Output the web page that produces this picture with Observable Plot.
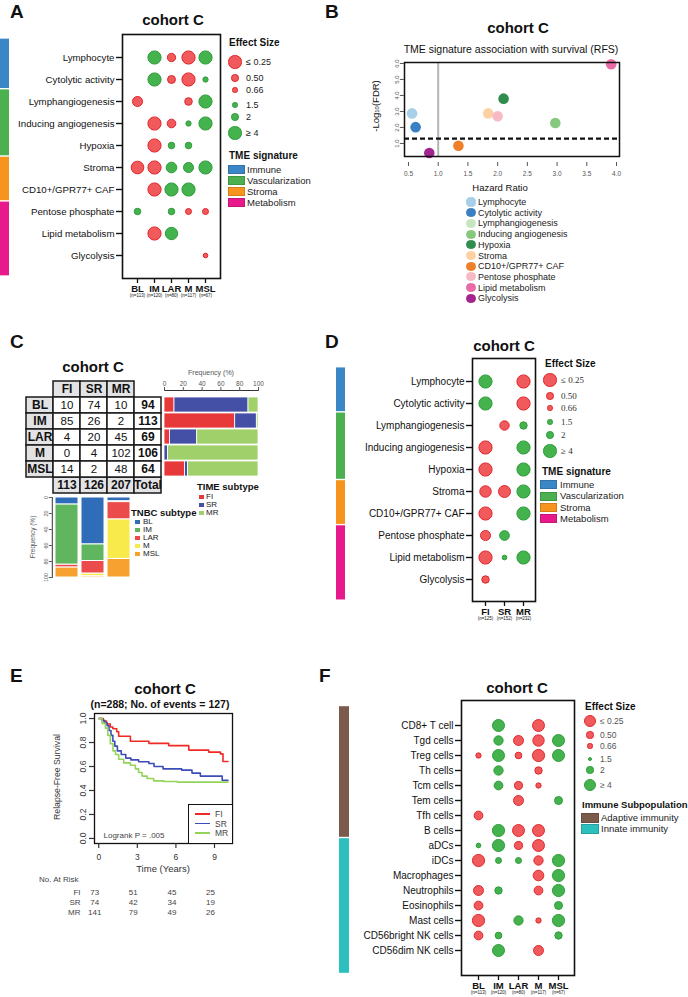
<!DOCTYPE html>
<html><head><meta charset="utf-8">
<script src="https://cdn.jsdelivr.net/npm/d3@7"></script>
<script src="https://cdn.jsdelivr.net/npm/@observablehq/plot@0.6"></script>
<style>
body{margin:0;background:#fff;}
#root{position:relative;width:688px;height:997px;overflow:hidden;background:#fff;}
</style></head><body><div id="root"></div>
<script>
// ================= DATA =================
// Panel A (TME signatures x TNBC subtypes), effect sizes (null = not significant)
const tmeRows = ["Lymphocyte","Cytolytic activity","Lymphangiogenesis","Inducing angiogenesis","Hypoxia","Stroma","CD10+/GPR77+ CAF","Pentose phosphate","Lipid metabolism","Glycolysis"];
const tmeGroups = ["Immune","Vascularization","Stroma","Metabolism"];
const tmeGroupCounts = [2,3,2,3];
const tmeGroupColors = ["#3b86c6","#4cb050","#f7941e","#e8198b"];
const subtypes = ["BL","IM","LAR","M","MSL"];
const subtypeN = [113,120,80,117,67];
const aES = [
  [null,4,0.46,0.25,4],
  [null,4,0.48,0.25,1.5],
  [0.37,null,null,0.5,4],
  [null,0.25,0.44,1.5,4],
  [null,0.25,1.75,1.75,null],
  [0.27,0.25,2.9,2.7,4],
  [null,0.25,4,4,null],
  [1.75,null,1.75,0.61,0.61],
  [null,0.25,3.6,null,null],
  [null,null,null,null,0.72]
];
// Panel D (TME signatures x TIME subtypes)
const timeSubtypes = ["FI","SR","MR"];
const timeN = [125,152,232];
const dES = [
  [4,null,0.25],
  [4,null,0.25],
  [null,0.4,1.95],
  [0.25,null,4],
  [0.25,null,4],
  [0.31,0.29,4],
  [0.25,null,4],
  [0.37,2.6,null],
  [0.25,1.4,4],
  [0.51,null,null]
];
// Effect-size legend
const esLegendValues = [0.25,0.5,0.66,1.5,2,4];
const esLegendLabels = ["≤ 0.25","0.50","0.66","1.5","2","≥ 4"];

// Panel B (hazard ratio vs -log10 FDR)
const bNames = ["Lymphocyte","Cytolytic activity","Lymphangiogenesis","Inducing angiogenesis","Hypoxia","Stroma","CD10+/GPR77+ CAF","Pentose phosphate","Lipid metabolism","Glycolysis"];
const bHR = [0.56,0.62,null,2.97,2.1,1.84,1.34,2.0,3.91,0.85];
const bLogFDR = [2.88,2.02,null,2.28,3.8,2.88,0.86,2.7,5.95,0.4];
const bColors = ["#a8cfe8","#3a80c4","#c6e6bf","#86c97e","#2f8d4e","#fdd1a3","#f07f2a","#f8b9c6","#e96aa6","#a3238f"];

// Panel C (contingency table)
const cRowNames = ["BL","IM","LAR","M","MSL"];
const cCounts = [[10,74,10],[85,26,2],[4,20,45],[0,4,102],[14,2,48]];
const cRowTotals = [94,113,69,106,64];
const cColTotals = [113,126,207];
const timeColors = ["#e8393a","#4450a6","#a0d06a"];
const tnbcColors = ["#2f6db8","#5fb65f","#ec4b4b","#f7ea4a","#f7a230"];
const freqTicks = [0,20,40,60,80,100];

// Panel E (Kaplan-Meier RFS)
const kmFI_t = [0,0.35,0.6,0.9,1.1,1.4,1.55,2.46,3.9,5.44,7.0,8.55,9.46,9.66,10.05];
const kmFI_s = [1,0.98,0.955,0.93,0.915,0.89,0.852,0.81,0.793,0.774,0.737,0.72,0.705,0.642,0.642];
const kmSR_t = [0,0.25,0.45,0.65,0.8,0.95,1.1,1.25,1.45,1.75,2.1,2.5,3.1,3.9,4.3,5.0,6.45,7.25,7.9,9.6,10.05];
const kmSR_s = [1,0.985,0.965,0.94,0.9,0.86,0.81,0.77,0.73,0.70,0.67,0.655,0.64,0.625,0.60,0.58,0.57,0.545,0.52,0.485,0.485];
const kmMR_t = [0,0.26,0.52,0.7,0.9,1.11,1.3,1.55,1.94,2.46,2.85,3.1,3.37,3.76,4.27,5.05,6.1,10.05];
const kmMR_s = [1,0.96,0.92,0.86,0.79,0.73,0.70,0.66,0.63,0.61,0.58,0.55,0.52,0.50,0.48,0.475,0.47,0.47];
const kmColors = ["#ee2a24","#3d4db7","#93d35a"];
const riskTimes = [0,3,6,9];
const riskFI = [73,51,45,25];
const riskSR = [74,42,34,19];
const riskMR = [141,79,49,26];

// Panel F (immune subpopulations x TNBC subtypes)
const fRows = ["CD8+ T cell","Tgd cells","Treg cells","Th cells","Tcm cells","Tem cells","Tfh cells","B cells","aDCs","iDCs","Macrophages","Neutrophils","Eosinophils","Mast cells","CD56bright NK cells","CD56dim NK cells"];
const fGroups = ["Adaptive immunity","Innate immunity"];
const fGroupCounts = [8,8];
const fGroupColors = ["#7b5a4b","#2bbfbd"];
const fES = [
  [null,3.9,null,0.26,null],
  [null,2.7,0.34,0.28,3.9],
  [0.64,3.9,0.53,0.25,3.9],
  [null,2.7,null,0.48,null],
  [null,2.5,0.44,0.64,null],
  [null,null,0.34,null,2.26],
  [0.40,null,null,null,null],
  [null,4,0.26,0.26,null],
  [1.43,4,0.44,0.26,null],
  [0.25,1.72,1.72,0.37,4],
  [null,null,null,0.31,4],
  [0.34,2.07,null,0.40,4],
  [0.40,null,null,null,2.26],
  [0.25,null,2.7,0.64,4],
  [0.40,1.88,null,null,2.07],
  [null,3.9,null,0.34,null]
];

// ================= HELPERS =================
const FONT = "'Liberation Sans', Arial, Helvetica, sans-serif";
const RED = "#f05a5c", RED_S = "#e2262a", GREEN = "#45b34d", GREEN_S = "#2f9c3b";
const root = document.getElementById("root");
const pstyle = {fontFamily: FONT, background: "transparent", overflow: "visible", color: "#111"};
function put(el, x, y) { el.style.position = "absolute"; el.style.left = x + "px"; el.style.top = y + "px"; root.appendChild(el); return el; }
function txt(html, x, y, o = {}) {
  const d = document.createElement("div");
  d.innerHTML = html;
  const ax = o.anchor === "middle" ? "-50%" : o.anchor === "end" ? "-100%" : "0%";
  d.style.cssText = `position:absolute;left:${x}px;top:${y}px;white-space:nowrap;line-height:1;font-family:${o.font || FONT};font-size:${o.size || 9}px;font-weight:${o.bold ? 700 : 400};color:${o.color || "#111"};transform:translate(${ax},-50%)${o.rotate ? ` rotate(${o.rotate}deg)` : ""};`;
  root.appendChild(d); return d;
}
function box(x, y, w, h, css) {
  const d = document.createElement("div");
  d.style.cssText = `position:absolute;left:${x}px;top:${y}px;width:${w}px;height:${h}px;box-sizing:border-box;${css}`;
  root.appendChild(d); return d;
}
function circ(cx, cy, r, fill, stroke) { return box(cx - r, cy - r, 2 * r, 2 * r, `border-radius:50%;background:${fill};border:1px solid ${stroke};`); }
const legR = (v, rMax) => 1 + (rMax - 1) * Math.min(Math.abs(Math.log2(v)), 2) / 2;

function dotPlot(c) {
  const data = [];
  c.rows.forEach((r, i) => c.cols.forEach((col, j) => { const v = c.es[i][j]; if (v != null) data.push({row: r, col, es: v}); }));
  const svg = Plot.plot({
    width: c.width, height: c.height, marginLeft: c.mL, marginRight: c.mR, marginTop: c.mT, marginBottom: c.mB,
    style: pstyle,
    x: {type: "point", domain: c.cols, padding: c.padX},
    y: {type: "point", domain: c.rows, padding: c.padY},
    r: {type: "linear", domain: [0, 2], range: [1, c.rMax], clamp: true},
    color: {type: "identity"},
    marks: [
      Plot.axisY({tickSize: 6, tickPadding: 2, fontSize: c.yFont || 10, strokeWidth: 1.4, label: null}),
      Plot.axisX({tickSize: 5, tickPadding: 1.5, fontSize: 9.5, fontWeight: "bold", strokeWidth: 1.3, label: null}),
      Plot.text(c.cols, {x: d => d, text: (d, i) => `(n=${c.ns[i]})`, frameAnchor: "bottom", dy: 18, fontSize: 4.5}),
      Plot.dot(data, {x: "col", y: "row", r: d => Math.abs(Math.log2(d.es)), fill: d => d.es < 1 ? RED : GREEN, stroke: d => d.es < 1 ? RED_S : GREEN_S, strokeWidth: 1}),
      Plot.frame({stroke: "#111", strokeWidth: 1.6})
    ]
  });
  put(svg, c.left, c.top);
}
function sideBar(c) {
  const n = d3.sum(c.counts);
  let cum = 0;
  const rects = c.groups.map((g, k) => { const s = cum; cum += c.counts[k]; return {g, y1: s - (k === 0 ? c.extT : 0), y2: cum + (k === c.groups.length - 1 ? c.extB : 0), color: c.colors[k]}; });
  const svg = Plot.plot({
    width: c.w, height: c.height, marginLeft: 0, marginRight: 0, marginTop: c.mT, marginBottom: c.mB, style: pstyle,
    x: {domain: [0, 1], axis: null},
    y: {domain: [0.5 - c.padY, n - 0.5 + c.padY], reverse: true, axis: null},
    color: {type: "identity"},
    marks: [Plot.rect(rects, {x1: 0, x2: 1, y1: "y1", y2: "y2", fill: "color", insetTop: 0.7, insetBottom: 0.7})]
  });
  put(svg, c.left, c.top);
}
function esLegend(tx, ty, cx, ys, lx, rMax, o = {}) {
  txt("Effect Size", tx, ty, {size: 10, bold: true});
  esLegendValues.forEach((v, i) => {
    const r = legR(v, rMax);
    circ(cx, ys[i], r, v < 1 ? RED : GREEN, v < 1 ? RED_S : GREEN_S);
    txt(esLegendLabels[i], lx, ys[i], {size: o.size || 9, color: o.color || "#222", font: o.font});
  });
}
function swLegend(title, tx, ty, names, colors, sx, sw, sh, ys, lx, size, tsize) {
  txt(title, tx, ty, {size: tsize || 10, bold: true});
  names.forEach((n, i) => {
    box(sx, ys[i] - sh / 2, sw, sh, `background:${colors[i]};border:0.5px solid rgba(0,0,0,0.15);`);
    txt(n, lx, ys[i], {size: size || 9.5, color: "#222"});
  });
}

// ================= PANEL LETTERS =================
[["A",10,11],["B",325,11],["C",10,341],["D",325,341],["E",10,675],["F",319,675]].forEach(([l,x,y]) => txt(l, x, y, {size: 19, bold: true}));

// ================= PANEL A =================
txt("cohort C", 173, 19, {size: 15, bold: true, anchor: "middle"});
dotPlot({rows: tmeRows, cols: subtypes, ns: subtypeN, es: aES, left: 0, top: 30, width: 222, height: 270, mL: 122, mR: 2, mT: 4, mB: 22, padX: 0.73, padY: 0.936, rMax: 6.6, yFont: 9.7});
sideBar({groups: tmeGroups, counts: tmeGroupCounts, colors: tmeGroupColors, left: 0, top: 30, w: 9, height: 270, mT: 4, mB: 22, padY: 0.936, extT: 0.26, extB: 0.35});
esLegend(229, 43, 235, [62,78,90,105,117,133], 246, 6.6);
swLegend("TME signature", 229, 156, tmeGroups, tmeGroupColors, 228, 17, 9, [169.5,180.5,191.5,202.5], 247, 9.5);

// ================= PANEL B =================
txt("cohort C", 518, 27, {size: 15, bold: true, anchor: "middle"});
txt("TME signature association with survival (RFS)", 511, 49, {size: 10.5, anchor: "middle"});
{
  const bData = bNames.map((n, i) => ({name: n, hr: bHR[i], lf: bLogFDR[i], color: bColors[i]})).filter(d => d.hr != null);
  const svg = Plot.plot({
    width: 243, height: 122, marginLeft: 24, marginRight: 4, marginTop: 4, marginBottom: 18, style: pstyle,
    x: {domain: [0.433, 4.05]}, y: {domain: [-0.19, 6.06]}, color: {type: "identity"},
    marks: [
      Plot.ruleX([1], {stroke: "#b5b5b5", strokeWidth: 2, insetBottom: 6}),
      Plot.ruleY([1.3], {stroke: "#111", strokeWidth: 2.2, strokeDasharray: "5,3"}),
      Plot.dot(bData, {x: "hr", y: "lf", fill: "color", r: 5.3}),
      Plot.frame({insetBottom: 6, stroke: "#111", strokeWidth: 1.5}),
      Plot.axisX({ticks: [0.5,1,1.5,2,2.5,3,3.5,4], tickFormat: d3.format(".1f"), tickSize: 4, tickPadding: 5, fontSize: 6.5, color: "#555", label: null}),
      Plot.axisY({ticks: [1,2,3,4,5,6], tickSize: 4, tickPadding: 2, fontSize: 6, tickRotate: -90, color: "#555", label: null})
    ]
  });
  put(svg, 380, 58);
}
txt("Hazard Ratio", 500, 188, {size: 9.5, anchor: "middle"});
txt("-Log<span style='font-size:6px'>10</span>(FDR)", 376, 106, {size: 9.5, anchor: "middle", rotate: -90});
bNames.forEach((n, i) => {
  const y = 202 + i * 10.7;
  circ(471, y, 4.6, bColors[i], bColors[i]);
  txt(n, 478, y, {size: 9, color: "#222"});
});

// ================= PANEL C =================
txt("cohort C", 93, 366, {size: 15, bold: true, anchor: "middle"});
{
  const tX = ["lab", ...timeSubtypes, "Total"], tY = ["hdr", ...cRowNames, "tot"];
  const gray = [], white = [], bold = [], reg = [];
  timeSubtypes.forEach(s => { gray.push({x: s, y: "hdr"}); bold.push({x: s, y: "hdr", t: s}); });
  cRowNames.forEach((r, i) => {
    gray.push({x: "lab", y: r}); bold.push({x: "lab", y: r, t: r});
    timeSubtypes.forEach((s, j) => { white.push({x: s, y: r}); reg.push({x: s, y: r, t: String(cCounts[i][j])}); });
    white.push({x: "Total", y: r}); bold.push({x: "Total", y: r, t: String(cRowTotals[i])});
  });
  timeSubtypes.forEach((s, j) => { gray.push({x: s, y: "tot"}); bold.push({x: s, y: "tot", t: String(cColTotals[j])}); });
  gray.push({x: "Total", y: "tot"}); bold.push({x: "Total", y: "tot", t: "Total"});
  const svg = Plot.plot({
    width: 143, height: 117, margin: 2, style: pstyle,
    x: {type: "band", domain: tX, padding: 0, axis: null}, y: {type: "band", domain: tY, padding: 0, axis: null},
    marks: [
      Plot.cell(gray, {x: "x", y: "y", fill: "#e3e3e6", stroke: "#1a1a1a", strokeWidth: 1.5}),
      Plot.cell(white, {x: "x", y: "y", fill: "white", stroke: "#1a1a1a", strokeWidth: 1.5}),
      Plot.text(bold, {x: "x", y: "y", text: "t", fontWeight: "bold", fontSize: 12}),
      Plot.text(reg, {x: "x", y: "y", text: "t", fontSize: 11.5})
    ]
  });
  put(svg, 22, 378);
}
{ // horizontal frequency bars (row %)
  const hData = [];
  cRowNames.forEach((r, i) => timeSubtypes.forEach((s, j) => hData.push({row: r, sub: s, pct: cCounts[i][j] / cRowTotals[i] * 100})));
  const svg = Plot.plot({
    width: 104, height: 112, marginLeft: 4, marginRight: 6, marginTop: 25, marginBottom: 0, style: pstyle,
    x: {domain: [0, 100]}, y: {type: "band", domain: cRowNames, paddingInner: 0.07, paddingOuter: 0.02, insetTop: 6, axis: null},
    color: {domain: timeSubtypes, range: timeColors},
    marks: [
      Plot.barX(hData, Plot.stackX({y: "row", x: "pct", fill: "sub", stroke: "white", strokeWidth: 0.8})),
      Plot.frame({anchor: "top", stroke: "#333", strokeWidth: 1}),
      Plot.axisX({anchor: "top", ticks: freqTicks, tickSize: 4, tickPadding: 1, fontSize: 6.5, color: "#555", label: null})
    ]
  });
  put(svg, 160, 365);
}
txt("Frequency (%)", 211, 372, {size: 7, color: "#555", anchor: "middle"});
{ // vertical frequency bars (column %)
  const vData = [];
  timeSubtypes.forEach((s, j) => cRowNames.forEach((r, i) => vData.push({col: s, sub: r, pct: cCounts[i][j] / cColTotals[j] * 100})));
  const svg = Plot.plot({
    width: 135, height: 87, marginLeft: 51.8, marginRight: 2, marginTop: 4, marginBottom: 3, style: pstyle,
    x: {type: "band", domain: timeSubtypes, padding: 0.1, axis: null}, y: {domain: [0, 100], reverse: true},
    color: {domain: cRowNames, range: tnbcColors},
    marks: [
      Plot.barY(vData, Plot.stackY({x: "col", y: "pct", fill: "sub", stroke: "white", strokeWidth: 1})),
      Plot.frame({anchor: "left", stroke: "#333", strokeWidth: 1}),
      Plot.axisY({ticks: freqTicks, tickSize: 3, tickPadding: 1.5, fontSize: 5.5, tickRotate: -90, color: "#555", label: null})
    ]
  });
  put(svg, 0, 493);
}
txt("Frequency (%)", 33, 537, {size: 6.5, color: "#555", anchor: "middle", rotate: -90});
txt("TIME subtype", 197, 487, {size: 9.5, bold: true});
timeSubtypes.forEach((s, i) => { const y = 497 + i * 8; box(199, y - 2.3, 4.6, 4.6, `background:${timeColors[i]}`); txt(s, 206, y, {size: 8, color: "#222"}); });
txt("TNBC subtype", 131, 513, {size: 9.5, bold: true});
cRowNames.forEach((s, i) => { const y = 522 + i * 8; box(135, y - 2.3, 4.6, 4.6, `background:${tnbcColors[i]}`); txt(s, 143, y, {size: 8, color: "#222"}); });

// ================= PANEL D =================
txt("cohort C", 504, 345, {size: 15, bold: true, anchor: "middle"});
dotPlot({rows: tmeRows, cols: timeSubtypes, ns: timeN, es: dES, left: 330, top: 350, width: 207, height: 277, mL: 142, mR: 2, mT: 8, mB: 26, padX: 0.62, padY: 0.887, rMax: 6.6, yFont: 10});
sideBar({groups: tmeGroups, counts: tmeGroupCounts, colors: tmeGroupColors, left: 336, top: 350, w: 9, height: 277, mT: 8, mB: 26, padY: 0.887, extT: 0.0, extB: 0.35});
esLegend(545, 364, 550, [380,396,408,422,435,451], 561, 6.6, {font: "'Liberation Serif', 'Times New Roman', serif", size: 9, color: "#333"});
swLegend("TME signature", 542, 472, tmeGroups, tmeGroupColors, 540, 17, 9, [484.5,496,507.5,518.5], 560, 9.5);

// ================= PANEL E =================
txt("cohort C", 165, 688, {size: 15, bold: true, anchor: "middle"});
txt("(n=288; No. of events = 127)", 160, 704, {size: 10.5, bold: true, anchor: "middle"});
{
  const km = [];
  kmFI_t.forEach((t, i) => km.push({g: "FI", t, s: kmFI_s[i]}));
  kmSR_t.forEach((t, i) => km.push({g: "SR", t, s: kmSR_s[i]}));
  kmMR_t.forEach((t, i) => km.push({g: "MR", t, s: kmMR_s[i]}));
  const svg = Plot.plot({
    width: 236, height: 170, marginLeft: 94, marginRight: 4, marginTop: 8, marginBottom: 32, style: pstyle,
    x: {domain: [-0.33, 10.4]}, y: {domain: [-0.042, 1.042]},
    color: {domain: timeSubtypes, range: kmColors},
    marks: [
      Plot.line(km, {x: "t", y: "s", stroke: "g", z: "g", curve: "step-after", strokeWidth: 1.6}),
      Plot.text(["Logrank P = .005"], {frameAnchor: "bottom-left", dx: 9, dy: -6, textAnchor: "start", fontSize: 8, fill: "#444"}),
      Plot.frame({stroke: "#111", strokeWidth: 1.3}),
      Plot.axisX({ticks: [0,3,6,9], tickSize: 5, tickPadding: 5, fontSize: 8.5, strokeWidth: 1.2, color: "#333", label: null}),
      Plot.axisY({ticks: [0,0.2,0.4,0.6,0.8,1], tickFormat: d3.format(".1f"), tickSize: 5, tickPadding: 4, fontSize: 8.5, tickRotate: -90, strokeWidth: 1.2, color: "#333", label: null})
    ]
  });
  put(svg, 0, 705);
}
txt("Relapse-Free Survival", 57, 777, {size: 8.7, color: "#333", anchor: "middle", rotate: -90});
txt("Time (Years)", 163, 869, {size: 9.5, color: "#333", anchor: "middle"});
box(188, 804, 44.5, 39.5, "border:1px solid #111;background:white;");
timeSubtypes.forEach((s, i) => { const y = 814 + i * 9.5; box(195, y - 0.8, 15, 1.6, `background:${kmColors[i]}`); txt(s, 215, y, {size: 8.5, color: "#444"}); });
txt("No. At Risk", 39, 880, {size: 8, color: "#444"});
{
  const risk = [];
  riskTimes.forEach((t, i) => { risk.push({g: "FI", t, n: riskFI[i]}); risk.push({g: "SR", t, n: riskSR[i]}); risk.push({g: "MR", t, n: riskMR[i]}); });
  const svg = Plot.plot({
    width: 236, height: 38, marginLeft: 94, marginRight: 4, marginTop: 6, marginBottom: 0.5, style: pstyle,
    x: {domain: [-0.33, 10.4], axis: null}, y: {type: "band", domain: timeSubtypes, padding: 0, axis: null},
    marks: [
      Plot.text(risk, {x: "t", y: "g", text: "n", dx: -4, fontSize: 8, fill: "#444"}),
      Plot.text(timeSubtypes, {y: d => d, text: d => d, frameAnchor: "left", dx: -14, textAnchor: "end", fontSize: 8, fill: "#444"})
    ]
  });
  put(svg, 0, 880);
}

// ================= PANEL F =================
txt("cohort C", 517, 687, {size: 15, bold: true, anchor: "middle"});
dotPlot({rows: fRows, cols: subtypes, ns: subtypeN, es: fES, left: 330, top: 695, width: 246, height: 302, mL: 131, mR: 2, mT: 5, mB: 22, padX: 0.72, padY: 1.094, rMax: 6.1, yFont: 10});
sideBar({groups: fGroups, counts: fGroupCounts, colors: fGroupColors, left: 339, top: 695, w: 10, height: 302, mT: 5, mB: 22, padY: 1.094, extT: 0.25, extB: 0.5});
esLegend(585, 707, 590, [721,735,746,759,770,785], 600, 6.1, {size: 8.5, color: "#555"});
swLegend("Immune Subpopulation", 582, 805, fGroups, fGroupColors, 581, 18, 9.5, [818, 829], 601, 9.5, 9.5);
</script></body></html>
